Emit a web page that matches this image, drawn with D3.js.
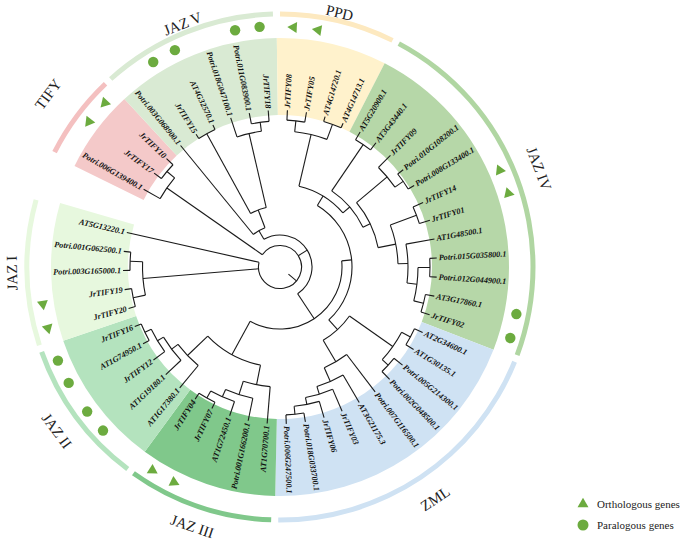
<!DOCTYPE html>
<html><head><meta charset="utf-8">
<script src="https://cdn.jsdelivr.net/npm/d3@7"></script>
<style>body{margin:0;background:#fff}</style>
</head><body>
<svg id="c" width="685" height="545"></svg>
<script>
// ---------------- DATA ----------------
// leaves in clockwise order, starting after the open gap (upper left)
const leaves = [
 "Potri.006G139400.1","JrTIFY17","JrTIFY10",
 "Potri.003G068900.1","JrTIFY15","AT4G32570.1","Potri.018G047100.1","Potri.011G083900.1","JrTIFY18",
 "JrTIFY08","JrTIFY05","AT4G14720.1","AT4G14713.1",
 "AT5G20900.1","AT3G43440.1","JrTIFY09","Potri.010G108200.1","Potri.008G133400.1","JrTIFY14","JrTIFY01","AT1G48500.1","Potri.015G035800.1","Potri.012G044900.1","AT3G17860.1","JrTIFY02",
 "AT2G34600.1","AT1G30135.1","Potri.005G214300.1","Potri.002G048500.1","Potri.007G116500.1","AT3G21175.3","JrTIFY03","JrTIFY06","Potri.018G033700.1","Potri.006G247500.1",
 "AT1G70700.1","Potri.001G166200.1","AT1G72450.1","JrTIFY07","JrTIFY04",
 "AT1G17380.1","AT1G19180.1","JrTIFY12","AT1G74950.1","JrTIFY16",
 "JrTIFY20","JrTIFY19","Potri.003G165000.1","Potri.001G062500.1","AT5G13220.1"
];
// tree topology; number after ')' = depth of that internal node (tree units from centre)
const tifyTree  = "(Potri.006G139400.1,(JrTIFY17,JrTIFY10)148)138";
const jazVTree  = "(Potri.003G068900.1,((JrTIFY15,AT4G32570.1)152,(Potri.018G047100.1,(Potri.011G083900.1,JrTIFY18)146)137)61)42";
const ppdTree   = "((JrTIFY08,JrTIFY05)147,(AT4G14720.1,AT4G14713.1)152)136";
const jazIVTree = "((AT5G20900.1,AT3G43440.1)148,((JrTIFY09,(Potri.010G108200.1,Potri.008G133400.1)150)140,((JrTIFY14,JrTIFY01)146,(AT1G48500.1,((Potri.015G035800.1,Potri.012G044900.1)150,(AT3G17860.1,JrTIFY02)148)138)128)118)100)92";
const zmlTree   = "(((AT2G34600.1,AT1G30135.1)148,(Potri.005G214300.1,Potri.002G048500.1)146)138,(Potri.007G116500.1,(AT3G21175.3,(JrTIFY03,(JrTIFY06,(Potri.018G033700.1,Potri.006G247500.1)148)140)133)125)110)85";
const jazIIITree= "(AT1G70700.1,(Potri.001G166200.1,(AT1G72450.1,(JrTIFY07,JrTIFY04)150)142)134)120";
const jazIITree = "(AT1G17380.1,(AT1G19180.1,(JrTIFY12,(AT1G74950.1,JrTIFY16)150)143)136)128";
const jazITree  = "((JrTIFY20,JrTIFY19)150,(Potri.003G165000.1,Potri.001G062500.1)150)137.5";
const treeNewick = "(" + tifyTree + ",(" + jazVTree + ",(((" + ppdTree + "," + jazIVTree + ")83," + zmlTree + ")72,(" + jazIIITree + "," + jazIITree + ")100)62)32," + jazITree + ",AT5G13220.1)21.5";
const tipDepth = 157;
const rootStemDepth = 11;
const rootStemAngle = 40;

const clades      = ["TIFY","JAZ V","PPD","JAZ IV","ZML","JAZ III","JAZ II","JAZ I"];
const cladeFirst  = ["Potri.006G139400.1","Potri.003G068900.1","JrTIFY08","AT5G20900.1","AT2G34600.1","AT1G70700.1","AT1G17380.1","JrTIFY20"];
const cladeLast   = ["JrTIFY10","JrTIFY18","AT4G14713.1","JrTIFY02","Potri.006G247500.1","JrTIFY04","JrTIFY16","AT5G13220.1"];

// marked gene pairs
const orthologous = [["JrTIFY17","JrTIFY10"],["JrTIFY08","JrTIFY05"],["JrTIFY14","JrTIFY01"],["JrTIFY07","JrTIFY04"],["JrTIFY20","JrTIFY19"]];
const paralogous  = [["JrTIFY15","AT4G32570.1"],["Potri.011G083900.1","JrTIFY18"],["AT3G17860.1","JrTIFY02"],["AT1G19180.1","JrTIFY12"],["AT1G74950.1","JrTIFY16"]];
const legendLabels = ["Orthologous genes","Paralogous genes"];

// ---------------- STYLE ----------------
const cx = 280, cy = 267;
const bgColor  = {"TIFY":"#f4c9c9","JAZ V":"#d9ead3","PPD":"#fff2cc","JAZ IV":"#b6d7a8","ZML":"#cfe2f3","JAZ III":"#80c88b","JAZ II":"#b4e3be","JAZ I":"#e7f8de"};
const ringColor= {"TIFY":"#f4c0c0","JAZ V":"#d9ead3","PPD":"#fde9c0","JAZ IV":"#b0d6a2","ZML":"#cfe2f3","JAZ III":"#80c88b","JAZ II":"#b4e3be","JAZ I":"#e7f8de"};
const labelR   = {"TIFY":289,"JAZ V":262,"PPD":261,"JAZ IV":277,"ZML":279,"JAZ III":274,"JAZ II":277,"JAZ I":268};
const symColor = "#6cab3f";
const serif = "'Liberation Serif','Times New Roman',serif";

// ---------------- LAYOUT ----------------
function parse(s){
  let i = 0;
  function node(){
    if (s[i] === "("){
      i++;
      const children = [node()];
      while (s[i] === ","){ i++; children.push(node()); }
      i++;
      let num = "";
      while (i < s.length && /[0-9.]/.test(s[i])) num += s[i++];
      return {children, depth:+num};
    }
    let name = "";
    while (i < s.length && !/[,()]/.test(s[i])) name += s[i++];
    return {name, depth: tipDepth};
  }
  return node();
}
const root = d3.hierarchy(parse(treeNewick));
const angle = d3.scaleLinear().domain([0, leaves.length-1]).range([209.7, 552.7]);
const step = angle(1) - angle(0);
const rScale = d3.scaleLinear().domain([0, tipDepth]).range([0, 157]);
root.eachAfter(n => {
  if (!n.children) n.a = angle(leaves.indexOf(n.data.name));
  else n.a = (n.children[0].a + n.children[n.children.length-1].a)/2;
  n.r = rScale(n.data.depth);
});
const rad = a => a*Math.PI/180;
const px = (r,a) => [cx + r*Math.cos(rad(a)), cy + r*Math.sin(rad(a))];
const leafAngle = name => angle(leaves.indexOf(name));

const svg = d3.select("#c");
const g = svg.append("g");

// backgrounds
const bgArc = d3.arc().innerRadius(152).outerRadius(229);
clades.forEach((c,i)=>{
  const a0 = leafAngle(cladeFirst[i]) - step/2, a1 = leafAngle(cladeLast[i]) + step/2;
  g.append("path").attr("transform",`translate(${cx},${cy})`)
   .attr("d", bgArc({startAngle: rad(a0+90), endAngle: rad(a1+90)}))
   .attr("fill", bgColor[c]);
});
// outer ring arcs
const ringArc = d3.arc().innerRadius(250.5).outerRadius(255.5);
clades.forEach((c,i)=>{
  const a0 = leafAngle(cladeFirst[i]) - 2.7, a1 = leafAngle(cladeLast[i]) + 2.7;
  g.append("path").attr("transform",`translate(${cx},${cy})`)
   .attr("d", ringArc({startAngle: rad(a0+90), endAngle: rad(a1+90)}))
   .attr("fill", ringColor[c]);
});
// clade labels
clades.forEach((c,i)=>{
  const a = (leafAngle(cladeFirst[i]) + leafAngle(cladeLast[i]))/2;
  const an = ((a % 360) + 360) % 360;
  const rot = (an > 0 && an < 170) ? an - 90 : an + 90;
  const [x,y] = px(labelR[c], an);
  g.append("text").attr("x",x).attr("y",y)
   .attr("transform",`rotate(${rot},${x},${y})`)
   .attr("text-anchor","middle").attr("dominant-baseline","central")
   .attr("font-family",serif).attr("font-size",15).attr("fill","#222")
   .text(c);
});

// tree branches
const tree = g.append("g").attr("fill","none").attr("stroke","#1a1a1a").attr("stroke-width",1.1);
root.descendants().forEach(n=>{
  if (n.parent){
    const [x0,y0] = px(n.parent.r, n.a), [x1,y1] = px(n.r, n.a);
    tree.append("line").attr("x1",x0).attr("y1",y0).attr("x2",x1).attr("y2",y1);
  }
  if (n.children){
    const a0 = n.children[0].a, a1 = n.children[n.children.length-1].a;
    const p = d3.path();
    const [sx,sy] = px(n.r, a0);
    p.moveTo(sx,sy);
    p.arc(cx, cy, n.r, rad(a0), rad(a1), false);
    tree.append("path").attr("d", p.toString());
  }
});
{
  const [x0,y0] = px(rScale(rootStemDepth), rootStemAngle), [x1,y1] = px(root.r, rootStemAngle);
  tree.append("line").attr("x1",x0).attr("y1",y0).attr("x2",x1).attr("y2",y1);
}

// leaf labels
root.leaves().forEach(n=>{
  const an = ((n.a % 360) + 360) % 360;
  const flip = an > 90 && an < 270;
  const [x,y] = px(n.r + 2, an);
  g.append("text").attr("x",x).attr("y",y)
   .attr("transform",`rotate(${flip ? an-180 : an},${x},${y})`)
   .attr("text-anchor", flip ? "end" : "start").attr("dominant-baseline","central")
   .attr("font-family",serif).attr("font-style","italic").attr("font-weight","bold")
   .attr("font-size",8.2).attr("fill","#111")
   .text(n.data.name);
});

// symbols: each pair drawn slightly closer together than the leaves
const tri = d3.symbol().type(d3.symbolTriangle).size(52);
function pairAngles(pair){
  const a = pair.map(leafAngle), m = (a[0]+a[1])/2;
  return a.map(v => m + (v-m)*0.84);
}
orthologous.forEach(pair=>{
  pairAngles(pair).forEach(a=>{
    const [x,y] = px(240, a);
    g.append("path").attr("d", tri()).attr("fill", symColor)
     .attr("transform",`translate(${x},${y}) rotate(${a})`);
  });
});
paralogous.forEach(pair=>{
  pairAngles(pair).forEach(a=>{
    const [x,y] = px(241, a);
    g.append("circle").attr("cx",x).attr("cy",y).attr("r",5.2).attr("fill",symColor);
  });
});

// legend
const lg = svg.append("g");
legendLabels.forEach((t,i)=>{
  const y = 504 + i*21;
  if (i===0) lg.append("path").attr("d", tri()).attr("fill",symColor).attr("transform",`translate(583,${y})`);
  else lg.append("circle").attr("cx",583).attr("cy",y).attr("r",5.5).attr("fill",symColor);
  lg.append("text").attr("x",597).attr("y",y).attr("dominant-baseline","central")
    .attr("font-family",serif).attr("font-size",11).attr("fill","#222").text(t);
});
</script>
</body></html>
